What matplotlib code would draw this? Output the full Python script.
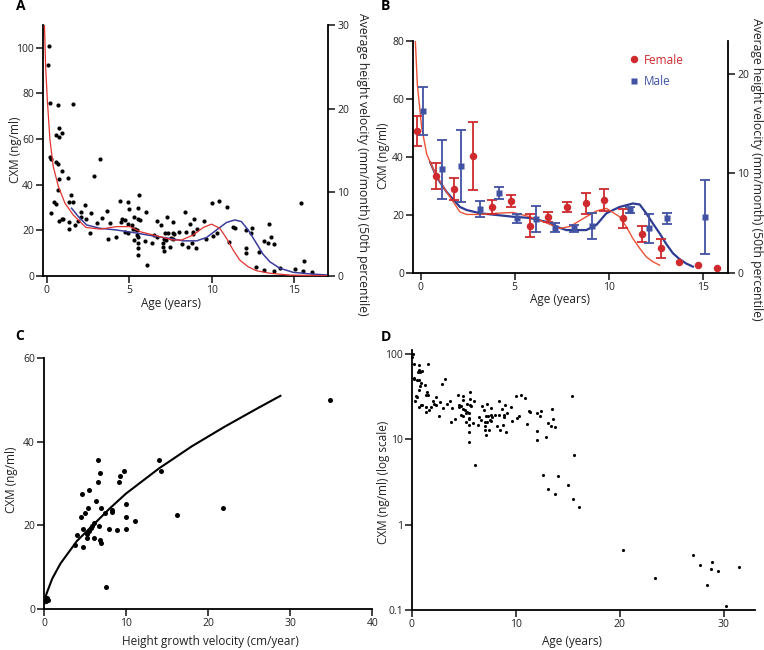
import numpy as np
import matplotlib
matplotlib.use("Agg")
import matplotlib.pyplot as plt

plt.rcParams['font.family'] = ['Open Sans', 'DejaVu Sans']

# ---------------- data ----------------
# Panel A / D: individual CXM values vs age (children)
age_child = [0.14,0.06,0.2,0.2,0.24,0.28,0.56,0.73,0.77,0.95,
             0.7,1.6,0.54,0.7,0.93,0.77,0.69,0.46,0.54,0.73,
             0.9,1.0,1.29,1.35,1.47,1.35,1.35,1.6,1.7,1.87,
             2.06,2.1,2.32,2.36,2.6,2.7,2.88,3.04,3.2,3.37,
             3.67,3.73,3.83,4.21,4.44,4.52,4.58,4.76,4.76,4.92,
             4.96,4.92,4.94,5.16,5.2,5.28,5.26,5.36,5.46,5.48,
             5.52,5.52,5.52,5.52,5.56,5.6,5.56,5.67,5.93,5.99,
             6.1,6.37,6.49,6.65,6.71,6.94,7.02,7.02,7.08,7.12,
             7.14,7.2,7.26,7.34,7.46,7.54,7.64,7.64,7.66,7.7,
             8.04,8.17,8.37,8.43,8.53,8.65,8.79,8.83,8.87,8.93,
             9.05,9.13,9.54,9.66,10.0,10.08,10.34,10.46,10.93,11.05,
             11.31,11.41,12.04,12.04,12.04,12.4,12.38,12.66,12.88,13.15,
             13.15,13.39,13.47,13.57,13.77,13.77,14.11,15.06,15.42,15.58,
             15.54,16.05]
cxm_child = [100.6,92.5,75.7,52.3,51.2,27.8,61.8,64.8,61.1,62.6,
             75,75.4,49.9,49.1,46.2,42.4,37.7,32.3,31.6,24,
             24.9,24.9,42.8,32.6,35.5,23.7,20.8,32.6,22.2,24,
             28.1,25.7,31.3,24.9,18.7,27.5,44,23.4,51.3,25.6,
             28.4,16.1,23.1,17.3,32.7,23.7,25,24.6,19.4,32.3,
             29.2,22.8,18.7,22.2,20.5,25.7,15.8,20.8,20.2,17.8,
             17.3,14.6,12.1,9.2,30,35.4,25.1,24.6,15.5,28.1,
             5,14.6,18,17,24.3,22.2,14.3,12.9,16.1,11.1,
             18.7,15.8,25.9,18.7,12.7,16.7,19,23.5,16.4,18.4,
             19.4,14.2,27.9,19.4,12.7,22.8,14.6,19.2,18.4,25,
             12.1,20.5,24,16.4,32.2,17.5,18.7,32.7,30.1,14.9,
             21.6,21.1,20.2,12.4,9.9,21.2,18.7,3.8,10.5,15.5,
             2.6,14.3,22.8,17.3,13.9,2.3,3.7,2.9,32,6.6,
             2,1.6]
# Panel D: adults
age_adult = [20.35,23.36,27.04,27.7,28.38,28.83,28.8,29.4,30.24,31.42]
cxm_adult = [0.51,0.24,0.44,0.34,0.196,0.365,0.305,0.29,0.11,0.32]

# Height velocity curves (mm/month, 50th percentile), panel A
hv_f_age_a = [-0.14,-0.06,0.04,0.2,0.4,0.71,1.11,1.61,2.12,2.38,3.23,4.23,5.04,5.65,6.65,
              7.66,8.17,8.87,9.48,9.98,10.48,10.89,11.29,11.69,12.2,12.7,13.5,14.72,17.04]
hv_f_a = [30.5,25.0,21.1,16.3,13.1,10.7,8.7,7.3,6.3,5.8,5.6,5.9,5.9,5.3,4.8,
          4.3,4.3,4.9,5.8,6.2,5.7,4.5,3.1,1.9,1.1,0.63,0.33,0.11,0.03]
hv_m_age_a = [1.51,1.92,2.42,3.23,4.23,5.24,6.25,7.26,8.27,9.07,9.68,10.28,10.89,11.39,
              11.79,12.2,12.7,13.1,13.51,14.11,14.92,15.93,17.04]
hv_m_a = [8.1,7.1,6.1,5.7,5.5,5.2,4.85,4.55,4.2,4.2,4.6,5.5,6.4,6.7,
          6.5,5.5,3.9,2.6,1.7,0.93,0.44,0.25,0.11]

# Panel B: group means +/- SEM
fem_age = [-0.21,0.8,1.79,2.8,3.79,4.78,5.79,6.78,7.77,8.78,9.77,10.76,11.77,12.76,13.75,14.74,15.75]
fem_cxm = [48.9,33.3,28.9,40.2,22.8,24.7,16.2,19.1,22.6,23.9,25.1,18.7,13.3,8.4,3.8,2.6,1.7]
fem_sem = [5.3,4.6,3.75,11.6,2.4,2.15,4.0,1.7,1.7,3.75,3.7,3.4,2.65,3.25,0,0,0]
male_age = [0.14,1.13,2.14,3.15,4.14,5.15,6.14,7.13,8.14,9.13,11.13,12.14,13.13,15.13]
male_cxm = [55.7,35.6,36.8,22,27.4,18.7,18.5,15.5,15.3,16.1,21.6,15.4,18.7,19.3]
male_sem = [8.25,10.3,12.25,2.8,2.0,1.5,4.35,1.5,1.2,4.55,0.9,5.0,2.05,12.8]

# Height velocity curves, panel B (mm/month)
hv_f_age_b = [-0.3,-0.18,0.05,0.32,0.76,1.38,2.09,2.44,3.15,4.04,4.92,5.8,6.69,7.4,7.93,
              8.81,9.35,9.88,10.23,10.58,10.94,11.29,11.65,12.0,12.35,12.71]
hv_f_b = [23.9,18.9,14.6,11.9,10.0,8.1,6.1,5.85,5.85,5.97,6.05,5.62,5.0,4.45,4.63,
          5.62,6.2,6.46,6.05,5.62,4.63,3.43,2.45,1.6,1.1,0.76]
hv_m_age_b = [0.5,0.85,1.38,2.09,2.44,3.15,4.92,5.8,6.69,7.4,7.75,8.81,9.35,9.88,10.58,
              11.29,11.65,12.0,12.35,12.71,13.06,13.42,13.77,14.12,14.48]
hv_m_b = [11.1,9.6,8.1,6.6,6.3,5.97,5.62,5.5,5.1,4.5,4.28,4.28,4.8,5.97,6.6,
          6.95,6.85,5.97,4.95,3.96,2.9,1.95,1.37,0.93,0.61]

# Panel C: CXM vs height growth velocity
vel_c = [0.24,0.32,0.45,3.82,3.98,4.55,4.63,4.75,4.79,5.03,5.2,5.28,5.4,5.44,5.48,5.69,5.85,
         6.09,6.09,6.37,6.58,6.62,6.7,6.82,6.86,6.9,6.9,7.43,7.55,7.95,8.24,8.28,8.85,9.1,
         9.3,9.78,9.99,10.03,10.03,11.1,14.05,14.2,16.2,21.8,34.8]
cxm_c = [1.9,2.5,2.2,15.3,17.6,21.9,27.6,14.7,19.0,23.0,16.9,17.9,24.2,18.7,28.4,19.4,19.8,
         20.6,17.0,25.8,30.3,35.6,19.9,32.4,16.5,15.8,24.1,22.9,5.2,19.2,23.7,23.2,18.8,30.4,
         31.8,33.1,25.1,22.0,19.0,21.0,35.6,33.1,22.5,24.2,50.0]
# power-law fit curve
fit_x = [0.05,0.3,1,2,3,4,6,8,10,14,18,22,26,28.8]
fit_y = [1.25,3.56,7.19,10.8,13.5,16.2,20.1,24.0,27.6,33.6,38.9,43.6,48.0,51.0]

# ---------------- styling ----------------
W, H = 764, 650
RED = '#cf2a2e'
BLUE = '#4152a3'
fig = plt.figure(figsize=(W/100, H/100), dpi=100)

def px_axes(l, t, r, b):
    return fig.add_axes([l/W, 1-b/H, (r-l)/W, (b-t)/H])

def style(ax, right=False):
    ax.spines['top'].set_visible(False)
    if not right:
        ax.spines['right'].set_visible(False)
    for s in ax.spines.values():
        s.set_linewidth(1.3)
    ax.tick_params(direction='out', length=5, width=1.2, labelsize=7.5, pad=1.5, colors='#222222')

def ftext(x, y, s, **kw):
    fig.text(x/W, 1-y/H, s, **kw)

LAB = 8.5
dot = dict(s=9, c='black', linewidths=0, zorder=3)

# ---- Panel A ----
axA = px_axes(43, 25, 328, 276)
style(axA)
axA.scatter(age_child, cxm_child, **dot)
axA.set_xlim(-0.22, 17.03)
axA.set_ylim(0, 110)
axA.set_xticks([0, 5, 10, 15])
axA.set_yticks([0, 20, 40, 60, 80, 100])
axA2 = axA.twinx()
style(axA2, right=True)
axA2.spines['left'].set_visible(False)
axA2.spines['bottom'].set_visible(False)
axA2.plot(hv_m_age_a, hv_m_a, color='#3b3c9c', lw=1.1)
axA2.plot(hv_f_age_a, hv_f_a, color='#e2332f', lw=0.9)
axA2.set_ylim(0, 30)
axA2.set_yticks([0, 10, 20, 30])

# ---- Panel B ----
axB = px_axes(413, 40.7, 728, 272.7)
style(axB)
axB.set_xlim(-0.41, 16.35)
axB.set_ylim(0, 80)
axB.set_xticks([0, 5, 10, 15])
axB.set_yticks([0, 20, 40, 60, 80])
axB2 = axB.twinx()
style(axB2, right=True)
axB2.spines['left'].set_visible(False)
axB2.spines['bottom'].set_visible(False)
axB2.plot(hv_m_age_b, hv_m_b, color='#2e3b92', lw=1.6, zorder=2)
axB2.plot(hv_f_age_b, hv_f_b, color='#ec5236', lw=1.0, zorder=2)
axB2.set_ylim(0, 23.3)
axB2.set_yticks([0, 10, 20])
axB.set_zorder(axB2.get_zorder() + 1)
axB.patch.set_visible(False)

fa = np.array(fem_age); fc = np.array(fem_cxm); fs = np.array(fem_sem)
ma = np.array(male_age); mc = np.array(male_cxm); ms = np.array(male_sem)
fm = fs > 0
axB.errorbar(fa[fm], fc[fm], yerr=fs[fm], fmt='none', ecolor=RED, elinewidth=1.3,
             capsize=3.6, capthick=1.3)
axB.errorbar(ma, mc, yerr=ms, fmt='none', ecolor=BLUE, elinewidth=1.3,
             capsize=3.6, capthick=1.3)
axB.plot(fa, fc, 'o', color=RED, ms=5.4, mec='none', label='Female')
axB.plot(ma, mc, 's', color=BLUE, ms=4.8, mec='none', label='Male')
leg = axB.legend(loc='upper left', bbox_to_anchor=(0.665, 0.97), frameon=False,
                 handlelength=1.0, handletextpad=0.3, labelspacing=0.75,
                 fontsize=8.5, labelcolor='markerfacecolor', borderpad=0)

# ---- Panel C ----
axC = px_axes(44, 358.3, 372.3, 608.7)
style(axC)
axC.scatter(vel_c, cxm_c, s=13, c='black', linewidths=0, zorder=3, clip_on=False)
axC.plot(fit_x, fit_y, color='black', lw=1.5)
axC.set_xlim(0, 40)
axC.set_ylim(0, 60)
axC.set_xticks([0, 10, 20, 30, 40])
axC.set_yticks([0, 20, 40, 60])

# ---- Panel D ----
axD = px_axes(411.7, 350, 755, 610)
style(axD)
axD.scatter(age_child + age_adult, cxm_child + cxm_adult, s=5, c='black',
            linewidths=0, zorder=3, clip_on=False)
axD.set_yscale('log')
axD.set_xlim(0, 33)
axD.set_ylim(0.1, 111)
axD.set_xticks([0, 10, 20, 30])
axD.set_yticks([0.1, 1, 10, 100])
axD.set_yticklabels(['0.1', '1', '10', '100'])
axD.yaxis.set_minor_locator(matplotlib.ticker.NullLocator())

# ---- labels ----
tk = dict(fontsize=LAB, color='#222222', ha='center', va='center')
ftext(15, 150, 'CXM (ng/ml)', rotation=90, **tk)
ftext(171, 303, 'Age (years)', **tk)
ftext(363, 164, 'Average height velocity (mm/month) (50th percentile)', rotation=270,
      fontsize=8.8, color='#222222', ha='center', va='center')
ftext(383, 156, 'CXM (ng/ml)', rotation=90, **tk)
ftext(560, 300, 'Age (years)', **tk)
ftext(757, 169, 'Average height velocity (mm/month) (50th percentile)', rotation=270,
      fontsize=8.8, color='#222222', ha='center', va='center')
ftext(12, 480, 'CXM (ng/ml)', rotation=90, **tk)
ftext(210, 642, 'Height growth velocity (cm/year)', **tk)
ftext(383, 482, 'CXM (ng/ml) (log scale)', rotation=90, **tk)
ftext(572, 641, 'Age (years)', **tk)

pl = dict(fontsize=10, fontweight='bold', ha='left', va='baseline', color='black')
ftext(16, 10, 'A', **pl)
ftext(381, 10, 'B', **pl)
ftext(15, 340, 'C', **pl)
ftext(381, 341, 'D', **pl)

fig.savefig('out.png', dpi=100)
